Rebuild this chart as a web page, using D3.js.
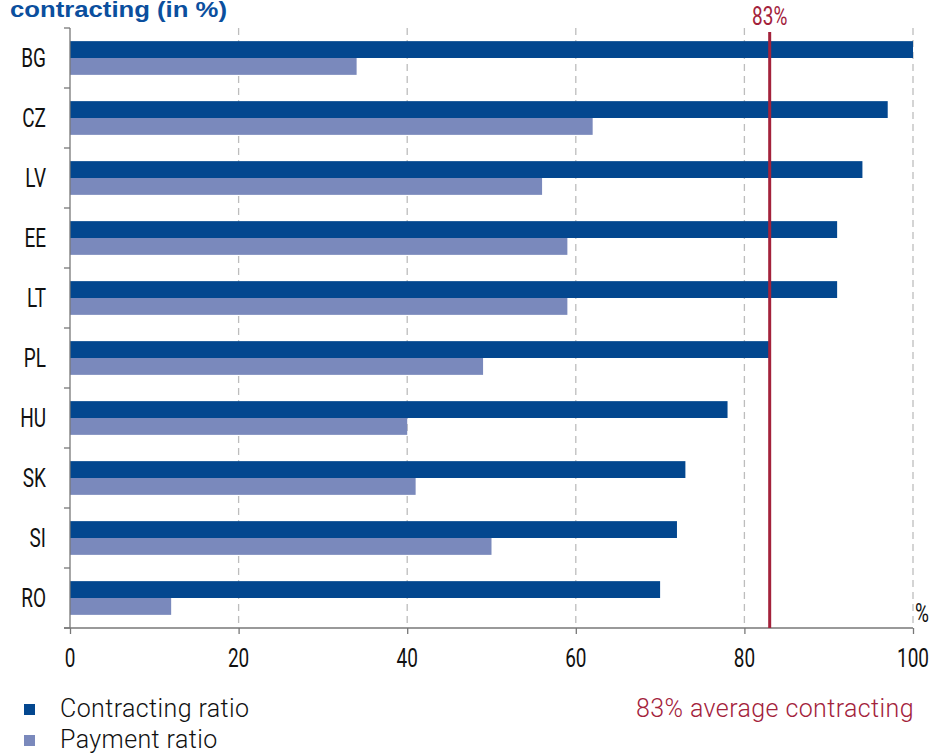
<!DOCTYPE html>
<html>
<head>
<meta charset="utf-8">
<script src="https://cdn.jsdelivr.net/npm/d3@7"></script>
<style>
  html, body { margin: 0; padding: 0; background: #fff; }
  svg { display: block; }
</style>
</head>
<body>
<svg id="chart" width="948" height="755"></svg>
<script>
// Contracting and payment ratios by country (in %)
const countries = ["BG", "CZ", "LV", "EE", "LT", "PL", "HU", "SK", "SI", "RO"];
const contracting = [100, 97, 94, 91, 91, 83, 78, 73, 72, 70];
const payment = [34, 62, 56, 59, 59, 49, 40, 41, 50, 12];
const averageContracting = 83;
const xTicks = [0, 20, 40, 60, 80, 100];
const seriesNames = ["Contracting ratio", "Payment ratio"];
const seriesKeys = ["contracting", "payment"];

const colors = { contracting: "#03478f", payment: "#7a89bc" };
const red = "#a3223b";
const condFont = "Roboto, 'DejaVu Sans', sans-serif";
const condSize = 25;
const condScale = 0.76;
const lightFont = "Roboto, 'Open Sans', sans-serif";

const rows = countries.map((c, i) => ({ country: c, contracting: contracting[i], payment: payment[i] }));

const svg = d3.select("#chart");

// Narrow label: Roboto squeezed horizontally around its anchor point
function narrowText(parent, px, py, anchor, str, fill) {
  return parent.append("text")
    .attr("transform", `translate(${px},${py}) scale(${condScale},1)`)
    .attr("text-anchor", anchor)
    .attr("font-family", condFont).attr("font-size", condSize)
    .attr("fill", fill)
    .text(str);
}

const x = d3.scaleLinear().domain([0, 100]).range([70, 913]);
const y = d3.scaleBand().domain(countries).range([28, 628]).padding(0);
const ySub = d3.scaleBand().domain(seriesKeys).range([0, y.bandwidth()]).paddingInner(0).paddingOuter(0.78).align(0.5);

// Title
svg.append("text")
  .attr("x", 10).attr("y", 17)
  .attr("font-family", "'Liberation Sans', Arial, sans-serif")
  .attr("font-weight", "bold").attr("font-size", 22)
  .attr("fill", "#0b4f9e")
  .attr("textLength", 217).attr("lengthAdjust", "spacingAndGlyphs")
  .text("contracting (in %)");

// Dashed vertical gridlines
svg.append("g").selectAll("line")
  .data(xTicks.filter(d => d > 0))
  .join("line")
  .attr("x1", d => x(d)).attr("x2", d => x(d))
  .attr("y1", 28).attr("y2", 628)
  .attr("stroke", "#bdbdbd").attr("stroke-width", 1.3)
  .attr("stroke-dasharray", "7,5");

// Bars
const groups = svg.append("g").selectAll("g")
  .data(rows)
  .join("g")
  .attr("transform", d => `translate(0,${y(d.country)})`);

groups.selectAll("rect")
  .data(d => seriesKeys.map(k => ({ key: k, value: d[k] })))
  .join("rect")
  .attr("x", x(0))
  .attr("y", d => ySub(d.key))
  .attr("width", d => x(d.value) - x(0))
  .attr("height", ySub.bandwidth())
  .attr("fill", d => colors[d.key]);

// Y axis
const yAxis = svg.append("g");
yAxis.append("line")
  .attr("x1", x(0)).attr("x2", x(0)).attr("y1", 28).attr("y2", 628)
  .attr("stroke", "#777").attr("stroke-width", 1.3);
yAxis.selectAll("line.tick")
  .data(countries.map(c => y(c)).concat([y.range()[1]]))
  .join("line").attr("class", "tick")
  .attr("x1", x(0) - 6).attr("x2", x(0))
  .attr("y1", d => d).attr("y2", d => d)
  .attr("stroke", "#777").attr("stroke-width", 1.3);
countries.forEach(c => {
  narrowText(yAxis, 46, y(c) + y.bandwidth() / 2 + 8.5, "end", c, "#111");
});

// X axis
const xAxis = svg.append("g")
  .attr("transform", "translate(0,628)")
  .call(d3.axisBottom(x).tickValues(xTicks).tickSize(6).tickSizeOuter(0).tickFormat(""));
xAxis.select(".domain").attr("stroke", "#777").attr("stroke-width", 1.3)
  .attr("d", `M${x(0) - 6},0H${x(100)}`);
xAxis.selectAll(".tick line").attr("stroke", "#777").attr("stroke-width", 1.3);
xTicks.forEach(t => {
  narrowText(svg, x(t), 667, "middle", String(t), "#111");
});

narrowText(svg, 922, 622, "middle", "%", "#111");

// Average contracting line
svg.append("line")
  .attr("x1", x(averageContracting)).attr("x2", x(averageContracting))
  .attr("y1", 32).attr("y2", 628)
  .attr("stroke", red).attr("stroke-width", 3);
narrowText(svg, x(averageContracting), 25, "middle", averageContracting + "%", red);

// Legend
const legend = svg.append("g");
seriesKeys.forEach((k, i) => {
  legend.append("rect")
    .attr("x", 24).attr("y", 704 + i * 31)
    .attr("width", 11).attr("height", 11)
    .attr("fill", colors[k]);
  legend.append("text")
    .attr("x", 60).attr("y", 717 + i * 31)
    .attr("font-family", lightFont).attr("font-weight", 300)
    .attr("font-size", 25).attr("letter-spacing", 0.4).attr("fill", "#111")
    .text(seriesNames[i]);
});
legend.append("text")
  .attr("x", 914).attr("y", 717)
  .attr("text-anchor", "end")
  .attr("font-family", lightFont).attr("font-weight", 300)
  .attr("font-size", 25).attr("letter-spacing", 0.4).attr("fill", red)
  .text(averageContracting + "% average contracting");
</script>
</body>
</html>
